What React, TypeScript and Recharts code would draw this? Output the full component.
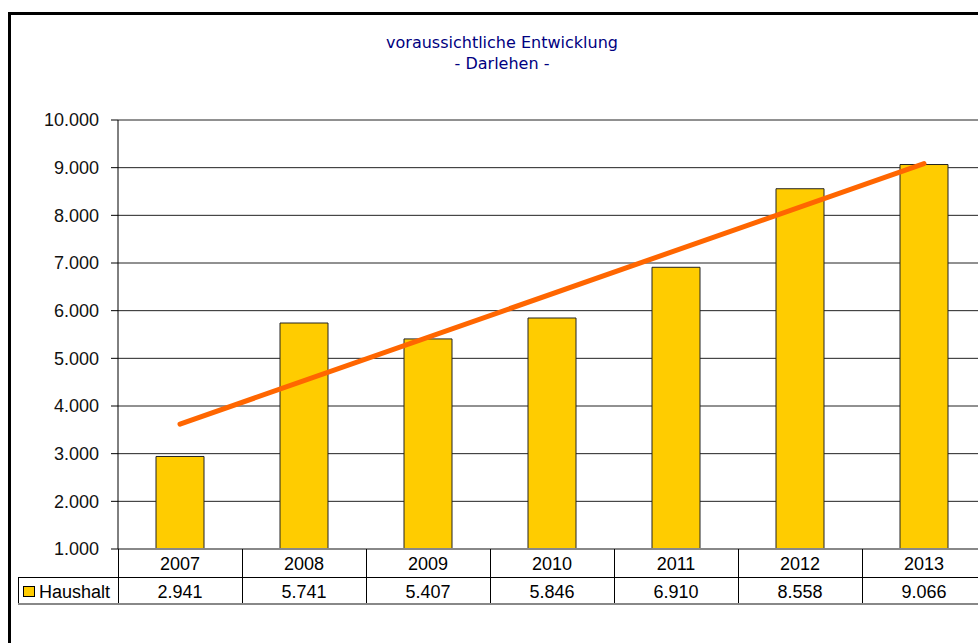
import React from "react";
import {
  ComposedChart,
  Bar,
  Line,
  XAxis,
  YAxis,
  CartesianGrid,
} from "recharts";

const years = ["2007", "2008", "2009", "2010", "2011", "2012", "2013"];
const haushalt = [2941, 5741, 5407, 5846, 6910, 8558, 9066];
// linear trend at the first and last year
const trend = [3620, null, null, null, null, null, 9086];
const yTicks = [1000, 2000, 3000, 4000, 5000, 6000, 7000, 8000, 9000, 10000];

const data = years.map((year, i) => ({
  year,
  Haushalt: haushalt[i],
  trend: trend[i],
}));

const fmt = (v: number) => v.toLocaleString("de-DE");

const CHART_W = 1000;
const PLOT_LEFT = 118;
const PLOT_RIGHT = 986;
const BAND = (PLOT_RIGHT - PLOT_LEFT) / years.length;
const font = "'Liberation Sans', Arial, sans-serif";
const FS = 18;

const TableTick = (props: any) => {
  const { x, y, payload, index } = props;
  const left = x - BAND / 2;
  const right = x + BAND / 2;
  const row1 = y + 28;
  const row2 = y + 55;
  return (
    <g>
      {index === 0 && (
        <g>
          <line x1={18} y1={row1 + 0.5} x2={left} y2={row1 + 0.5} stroke="#000" />
          <line x1={18.5} y1={row1} x2={18.5} y2={row2} stroke="#000" />
          <line x1={18} y1={row2} x2={left} y2={row2} stroke="#888" strokeWidth={2} />
          <rect x={23.5} y={row1 + 9.5} width={11} height={10} fill="#FFCC00" stroke="#000" />
          <text x={39} y={row1 + 21} fontSize={FS} fontFamily={font} fill="#000">
            Haushalt
          </text>
        </g>
      )}
      <line x1={Math.round(left) + 0.5} y1={y} x2={Math.round(left) + 0.5} y2={row2} stroke="#000" />
      <line x1={Math.round(right) + 0.5} y1={y} x2={Math.round(right) + 0.5} y2={row2} stroke="#000" />
      <line x1={left} y1={row1 + 0.5} x2={right} y2={row1 + 0.5} stroke="#000" />
      <line x1={left} y1={row2} x2={right} y2={row2} stroke="#888" strokeWidth={2} />
      <text x={x} y={y + 21} textAnchor="middle" fontSize={FS} fontFamily={font} fill="#000">
        {payload.value}
      </text>
      <text x={x} y={row1 + 21} textAnchor="middle" fontSize={FS} fontFamily={font} fill="#000">
        {fmt(haushalt[index])}
      </text>
    </g>
  );
};

export default function App() {
  return (
    <div
      style={{
        position: "absolute",
        left: 0,
        top: 0,
        width: 978,
        height: 643,
        overflow: "hidden",
        background: "#fff",
      }}
    >
      <div
        style={{
          position: "absolute",
          left: 8,
          top: 12,
          width: 1000,
          height: 700,
          borderLeft: "3px solid #000",
          borderTop: "3px solid #000",
        }}
      />
      <div
        style={{
          position: "absolute",
          left: 302,
          top: 32,
          width: 400,
          textAlign: "center",
          color: "#000080",
          fontFamily: "'Comic Sans MS', 'DejaVu Sans', sans-serif",
          fontSize: 16,
          lineHeight: "21px",
        }}
      >
        <div>voraussichtliche Entwicklung</div>
        <div>- Darlehen -</div>
      </div>
      <div style={{ position: "absolute", left: 0, top: 0 }}>
        <ComposedChart
          width={CHART_W}
          height={643}
          data={data}
          margin={{ top: 120, right: CHART_W - PLOT_RIGHT, left: 0, bottom: 0 }}
          barCategoryGap={0}
        >
          <CartesianGrid vertical={false} stroke="#222" />
          <XAxis
            dataKey="year"
            height={94}
            axisLine={{ stroke: "#888", strokeWidth: 2 }}
            tickLine={false}
            tickSize={0}
            tickMargin={0}
            interval={0}
            tick={<TableTick />}
          />
          <YAxis
            width={PLOT_LEFT}
            domain={[1000, 10000]}
            ticks={yTicks}
            tickFormatter={fmt}
            axisLine={{ stroke: "#000" }}
            tickLine={{ stroke: "#000" }}
            tickSize={7}
            tickMargin={12}
            tick={{ fontSize: FS, fontFamily: font, fill: "#111" }}
            interval={0}
          />
          <Bar
            dataKey="Haushalt"
            barSize={48}
            fill="#FFCC00"
            stroke="#222"
            strokeWidth={1}
            isAnimationActive={false}
          />
          <Line
            dataKey="trend"
            connectNulls
            stroke="#FF6600"
            strokeWidth={5}
            strokeLinecap="round"
            dot={false}
            activeDot={false}
            isAnimationActive={false}
          />
        </ComposedChart>
      </div>
    </div>
  );
}
